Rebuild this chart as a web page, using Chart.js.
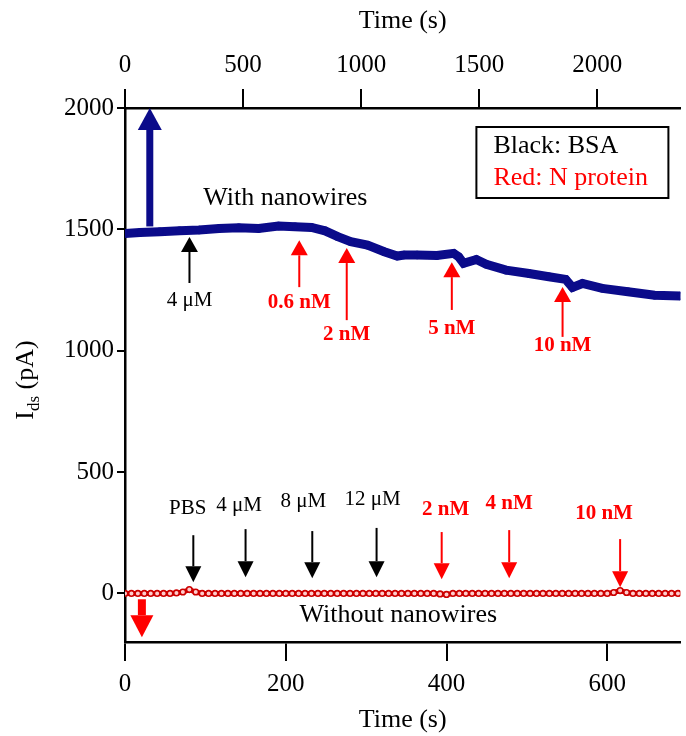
<!DOCTYPE html>
<html>
<head>
<meta charset="utf-8">
<script src="https://cdn.jsdelivr.net/npm/chart.js@4.4.0/dist/chart.umd.min.js"></script>
<style>
  html, body { margin: 0; padding: 0; background: #fff; }
</style>
</head>
<body>
<canvas id="ids" width="686" height="736"></canvas>
<script>
// with nanowires, read against the top time axis (s)
var wireTime = [0, 63, 147, 231, 314, 398, 482, 566, 650, 720, 790, 847, 901, 956, 1027, 1098, 1153, 1182, 1237, 1321,
  1392, 1413, 1434, 1488, 1530, 1614, 1711, 1795, 1866, 1895, 1937, 2021, 2130, 2243, 2352];
var wireCurrent = [1483, 1487, 1490, 1494, 1497, 1504, 1507, 1504, 1514, 1511, 1508, 1494, 1470, 1449, 1435, 1408, 1390, 1394, 1394, 1392,
  1401, 1387, 1360, 1376, 1356, 1332, 1318, 1305, 1294, 1261, 1277, 1257, 1243, 1229, 1225];

// without nanowires, read against the bottom time axis (s)
var bareTime = [0, 8, 16, 24, 32, 40, 48, 56, 64, 72, 80, 88, 96, 104, 112, 120, 128, 136, 144, 152,
  160, 168, 176, 184, 192, 200, 208, 216, 224, 232, 240, 248, 256, 264, 272, 280, 288, 296, 304, 312,
  320, 328, 336, 344, 352, 360, 368, 376, 384, 392, 400, 408, 416, 424, 432, 440, 448, 456, 464, 472,
  480, 488, 496, 504, 512, 520, 528, 536, 544, 552, 560, 568, 576, 584, 592, 600, 608, 616, 624, 632,
  640, 648, 656, 664, 672, 680, 688];
var bareCurrent = [0, 0, 0, 0, 0, 0, 0, 0, 2, 6,
  16, 6, 0, 0, 0, 0, 0, 0, 0, 0,
  0, 0, 0, 0, 0, 0, 0, 0, 0, 0,
  0, 0, 0, 0, 0, 0, 0, 0, 0, 0,
  0, 0, 0, 0, 0, 0, 0, 0, 0, -2,
  -4, 0, 0, 0, 0, 0, 0, 0, 0, 0,
  0, 0, 0, 0, 0, 0, 0, 0, 0, 0,
  0, 0, 0, 0, 0, 0, 4, 12, 4, 0,
  0, 0, 0, 0, 0, 0, 0];

var bottomTicks = [0, 200, 400, 600];
var topTicks = [0, 500, 1000, 1500, 2000];
var yTicks = [0, 500, 1000, 1500, 2000];

// injections on the upper trace (top axis)
var wireInjTime = [273, 738, 939, 1384, 1853];
var wireInjFrom = [1279, 1262, 1126, 1168, 1057];
var wireInjTo = [1469, 1455, 1423, 1365, 1263];
var wireInjText = ['4 \u03bcM', '0.6 nM', '2 nM', '5 nM', '10 nM'];
var wireInjTextY = [1208, 1200, 1065, 1093, 1023];
var wireInjRed = [false, true, true, true, true];

// injections on the lower trace (bottom axis)
var bareInjTime = [85, 150, 233, 313, 394, 478, 616];
var bareInjFrom = [240, 265, 257, 270, 253, 261, 224];
var bareInjTo = [46, 67, 63, 67, 59, 63, 26];
var bareInjText = ['PBS', '4 \u03bcM', '8 \u03bcM', '12 \u03bcM', '2 nM', '4 nM', '10 nM'];
var bareInjTextTime = [78, 142, 222, 308, 399, 478, 596];
var bareInjTextY = [350, 364, 380, 389, 347, 372, 331];
var bareInjRed = [false, false, false, false, true, true, true];

var serif = 'Liberation Serif';
var navy = '#0b0b8a';
var red = '#ff0000';

function pts(xs, ys) {
  return xs.map(function (x, i) { return { x: x, y: ys[i] }; });
}

function plain(v) { return String(v); }

function arrow(c, x, y0, y1, col, w, headW, headL) {
  var dir = y1 > y0 ? 1 : -1;
  c.strokeStyle = col;
  c.fillStyle = col;
  c.lineWidth = w;
  c.beginPath();
  c.moveTo(x, y0);
  c.lineTo(x, y1 - dir * headL);
  c.stroke();
  c.beginPath();
  c.moveTo(x, y1);
  c.lineTo(x - headW / 2, y1 - dir * headL);
  c.lineTo(x + headW / 2, y1 - dir * headL);
  c.closePath();
  c.fill();
}

var notes = {
  id: 'notes',
  afterDatasetsDraw: function (chart) {
    var c = chart.ctx, a = chart.chartArea;
    var xb = chart.scales.x, xt = chart.scales.xTop, y = chart.scales.y;
    c.save();
    c.textAlign = 'center';
    c.textBaseline = 'middle';

    // big arrows
    arrow(c, xt.getPixelForValue(105), y.getPixelForValue(1512), y.getPixelForValue(2000), navy, 7, 24, 22);
    arrow(c, xb.getPixelForValue(21), y.getPixelForValue(-24), y.getPixelForValue(-180), red, 8, 23, 22);

    wireInjTime.forEach(function (t, i) {
      var col = wireInjRed[i] ? red : '#000';
      var px = xt.getPixelForValue(t);
      arrow(c, px, y.getPixelForValue(wireInjFrom[i]), y.getPixelForValue(wireInjTo[i]), col, 2, 17, 15);
      c.fillStyle = col;
      c.font = (wireInjRed[i] ? 'bold ' : '') + '21px "' + serif + '"';
      c.fillText(wireInjText[i], px, y.getPixelForValue(wireInjTextY[i]));
    });

    bareInjTime.forEach(function (t, i) {
      var col = bareInjRed[i] ? red : '#000';
      var px = xb.getPixelForValue(t);
      arrow(c, px, y.getPixelForValue(bareInjFrom[i]), y.getPixelForValue(bareInjTo[i]), col, 2, 16, 16);
      c.fillStyle = col;
      c.font = (bareInjRed[i] ? 'bold ' : '') + '21px "' + serif + '"';
      c.fillText(bareInjText[i], xb.getPixelForValue(bareInjTextTime[i]), y.getPixelForValue(bareInjTextY[i]));
    });

    c.fillStyle = '#000';
    c.font = '26px "' + serif + '"';
    c.fillText('With nanowires', xt.getPixelForValue(679), y.getPixelForValue(1627));
    c.fillText('Without nanowires', xb.getPixelForValue(340), y.getPixelForValue(-89));

    // key box
    var bx = a.right - 204, by = a.top + 19;
    c.lineWidth = 2;
    c.strokeStyle = '#000';
    c.strokeRect(bx, by, 192, 71);
    c.textAlign = 'left';
    c.fillText('Black: BSA', bx + 17, by + 19);
    c.fillStyle = red;
    c.fillText('Red: N protein', bx + 17, by + 51);

    // y title with subscript
    c.translate(24, 380);
    c.rotate(-Math.PI / 2);
    c.textBaseline = 'alphabetic';
    c.fillStyle = '#000';
    c.font = '26px "' + serif + '"';
    var w1 = c.measureText('I').width, w3 = c.measureText(' (pA)').width;
    c.font = '17px "' + serif + '"';
    var w2 = c.measureText('ds').width;
    var x0 = -(w1 + w2 + w3) / 2;
    c.font = '26px "' + serif + '"';
    c.fillText('I', x0, 9);
    c.font = '17px "' + serif + '"';
    c.fillText('ds', x0 + w1, 15);
    c.font = '26px "' + serif + '"';
    c.fillText(' (pA)', x0 + w1 + w2, 9);
    c.restore();
  }
};

function timeAxis(pos, max, ticks, h, pad, titlePad) {
  return {
    type: 'linear',
    position: pos,
    min: 0,
    max: max,
    afterBuildTicks: function (s) { s.ticks = ticks.map(function (v) { return { value: v }; }); },
    afterFit: function (s) { s.height = h; },
    grid: { drawOnChartArea: false, color: '#000', lineWidth: 2, tickLength: 19 },
    border: { color: '#000', width: 2.5 },
    ticks: { color: '#000', font: { family: serif, size: 25 }, padding: pad, maxRotation: 0, callback: plain },
    title: { display: true, text: 'Time (s)', color: '#000', font: { family: serif, size: 26 }, padding: titlePad }
  };
}

new Chart(document.getElementById('ids').getContext('2d'), {
  type: 'line',
  data: {
    datasets: [{
      label: 'With nanowires',
      data: pts(wireTime, wireCurrent),
      xAxisID: 'xTop',
      borderColor: navy,
      borderWidth: 9,
      pointRadius: 3.5,
      pointBorderWidth: 1.5,
      pointBackgroundColor: navy,
      pointBorderColor: navy,
      tension: 0
    }, {
      label: 'Without nanowires',
      data: pts(bareTime, bareCurrent),
      xAxisID: 'x',
      borderColor: '#d80000',
      borderWidth: 5,
      pointRadius: 2.8,
      pointBorderWidth: 1.6,
      pointBackgroundColor: '#ffcccc',
      pointBorderColor: '#cc0000',
      tension: 0
    }]
  },
  options: {
    responsive: false,
    animation: false,
    devicePixelRatio: 1,
    layout: { padding: 0 },
    plugins: { legend: { display: false }, tooltip: { enabled: false } },
    scales: {
      x: timeAxis('bottom', 691, bottomTicks, 94, 8, 0),
      xTop: timeAxis('top', 2352, topTicks, 108, 9, { top: 6, bottom: 0 }),
      y: {
        type: 'linear',
        min: -200,
        max: 2000,
        afterBuildTicks: function (s) { s.ticks = yTicks.map(function (v) { return { value: v }; }); },
        afterFit: function (s) { s.width = 125; },
        grid: { drawOnChartArea: false, color: '#000', lineWidth: 2, tickLength: 8 },
        border: { color: '#000', width: 2.5 },
        ticks: { color: '#000', font: { family: serif, size: 25 }, padding: 3, callback: plain }
      }
    }
  },
  plugins: [notes]
});
</script>
</body>
</html>
